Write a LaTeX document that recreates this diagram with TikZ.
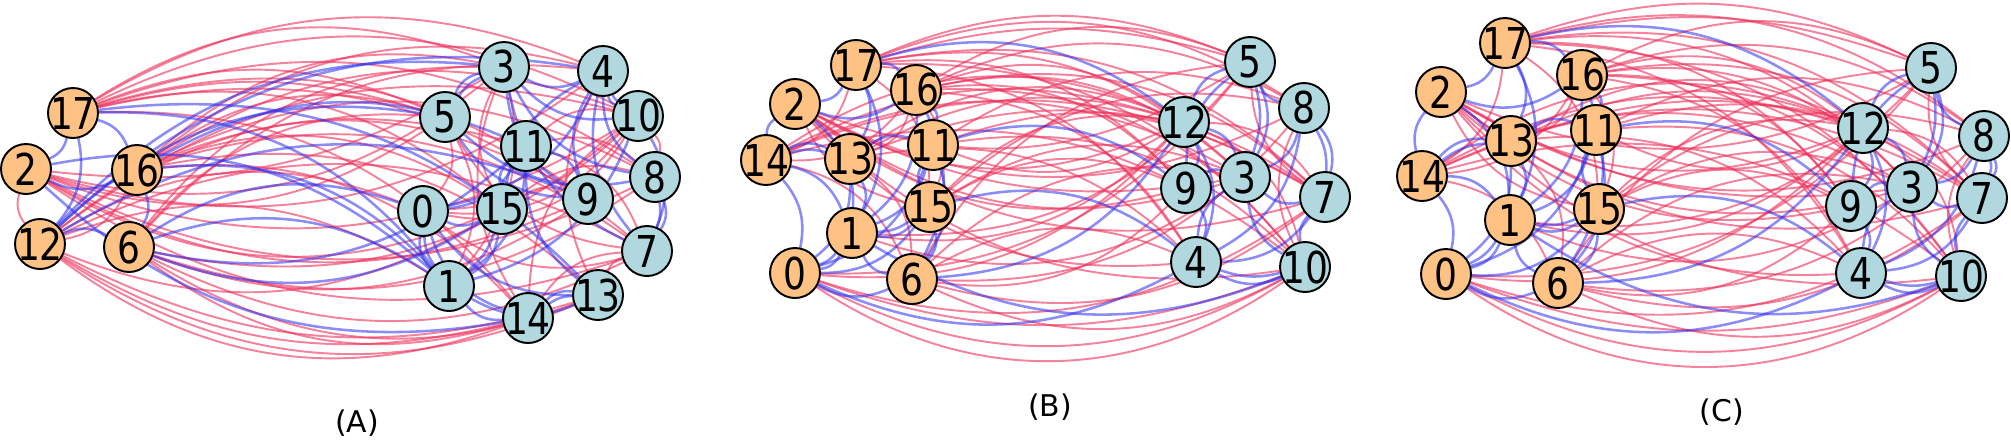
\documentclass[tikz,border=0pt]{standalone}
\usepackage{fontspec}
\setmainfont{DejaVu Sans}
\newfontfamily\numfont[FakeStretch=0.82]{DejaVu Sans}
\usetikzlibrary{backgrounds}
\definecolor{corange}{HTML}{FFC285}
\definecolor{cteal}{HTML}{B0D8DE}
\definecolor{cblue}{HTML}{2D2DF0}
\definecolor{cred}{HTML}{EE2F5A}
\tikzset{
  vtx/.style={circle, draw=black, fill=#1, line width=1.1pt, minimum size=1cm, inner sep=0pt, font=\numfont\fontsize{25}{25}\selectfont},
  vtx/.default=cteal,
  plink/.style={draw=cblue, line width=1.45pt, opacity=.55},
  nlink/.style={draw=cred, line width=1.1pt, opacity=.6},
  panel/.style={font=\fontsize{17}{17}\selectfont},
}
% edge lists: u/v/bend, u < v
\newcommand\posedges{2/17/26, 16/17/26, 2/16/26, 2/14/26, 13/17/26, 1/17/26, 13/14/26, 1/14/26, 0/14/26,
  1/13/26, 11/13/26, 0/1/26, 1/15/26, 1/11/26, 1/6/26, 0/6/26, 0/15/26, 0/11/26, 6/15/26, 11/15/26,
  11/16/26, 1/16/26, 1/2/26, 0/13/26, 6/11/26, 6/16/26, 0/1/16, 1/15/16, 13/14/16,
  5/12/26, 5/8/26, 3/5/26, 5/9/26, 7/8/26, 4/8/26, 3/8/26, 9/12/26, 3/12/26, 3/9/26, 4/9/26, 3/7/26,
  3/4/26, 3/10/26, 4/7/26, 7/10/26, 4/10/26, 4/12/26, 3/5/16, 4/10/16, 7/8/16,
  12/17/26, 9/11/26, 1/10/26, 4/15/26, 0/4/26, 6/12/26}
\newcommand\negedges{3/17/26, 4/17/26, 5/17/22, 5/17/16, 7/17/26, 9/17/26, 10/17/26, 8/17/26,
  3/16/26, 4/16/26, 5/16/26, 7/16/26, 9/16/26, 10/16/26, 8/16/26,
  2/3/26, 2/4/26, 2/5/26, 2/7/26, 2/9/26, 2/10/26, 2/3/18, 2/8/26,
  3/6/26, 4/6/26, 5/6/26, 6/7/26, 6/9/26, 6/8/26, 6/10/26,
  12/14/28, 12/14/22, 12/13/28, 12/13/22, 1/12/26, 0/12/26, 11/12/26, 12/15/26, 2/12/26, 12/16/26,
  0/5/26, 0/10/28, 0/10/20, 0/10/34, 0/7/26, 1/5/26, 1/3/26, 10/11/26, 8/11/26, 7/11/26, 7/13/26, 4/13/26,
  7/14/26, 3/14/26, 9/15/26, 8/15/26, 3/15/26, 10/14/26,
  6/14/26, 14/16/26, 13/16/26, 14/17/26, 2/15/26, 15/17/26, 6/13/26, 15/16/26,
  5/7/26, 10/12/26, 7/12/26, 8/10/26}

\begin{document}
\begin{tikzpicture}[x=0.02cm, y=-0.02cm]
  \useasboundingbox (0,0) rectangle (2011,441);
  % (A)
  \foreach \n/\x/\y/\c in {0/423/211/cteal, 1/449/286/cteal, 2/26/169/corange, 3/504/67/cteal,
      4/603/71/cteal, 5/445/117/cteal, 6/129/247/corange, 7/647/251/cteal, 8/655/177/cteal,
      9/588/199/cteal, 10/638/116/cteal, 11/526/146/cteal, 12/40/244/corange, 13/598/295/cteal,
      14/528/318/cteal, 15/502/209/cteal, 16/137/170/corange, 17/73/113/corange}
    \node[vtx=\c] (a\n) at (\x,\y) {\makebox[0pt]{\n}};
  % (B)
  \foreach \n/\x/\y/\c in {0/795/273/corange, 1/852/233/corange, 2/795/104/corange, 3/1245/177/cteal,
      4/1196/262/cteal, 5/1250/62/cteal, 6/912/279/corange, 7/1325/197/cteal, 8/1304/108/cteal,
      9/1186/188/cteal, 10/1305/267/cteal, 11/933/145/corange, 12/1184/122/cteal, 13/850/159/corange,
      14/766/160/corange, 15/930/207/corange, 16/916/90/corange, 17/856/65/corange}
    \node[vtx=\c] (b\n) at (\x,\y) {\makebox[0pt]{\n}};
  % (C)
  \foreach \n/\x/\y/\c in {0/1446/274/corange, 1/1510/220/corange, 2/1441/92/corange, 3/1912/187/cteal,
      4/1861/273/cteal, 5/1931/68/cteal, 6/1558/283/corange, 7/1982/198/cteal, 8/1984/136/cteal,
      9/1851/206/cteal, 10/1961/276/cteal, 11/1596/130/corange, 12/1863/128/cteal, 13/1511/141/corange,
      14/1422/176/corange, 15/1599/209/corange, 16/1582/75/corange, 17/1505/43/corange}
    \node[vtx=\c] (c\n) at (\x,\y) {\makebox[0pt]{\n}};
  \begin{scope}[on background layer]
    \foreach \p in {a,b,c} {
      \foreach \u/\v/\b in \negedges
        \draw[nlink] (\p\u) to[bend right=\b] (\p\v);
      \foreach \u/\v/\b in \posedges
        \draw[plink] (\p\u) to[bend right=\b] (\p\v);
    }
  \end{scope}
  \node[panel] (labA) at (357,423) {(A)};
  \node[panel] (labB) at (1050,407) {(B)};
  \node[panel] (labC) at (1722,412) {(C)};
\end{tikzpicture}
\end{document}
